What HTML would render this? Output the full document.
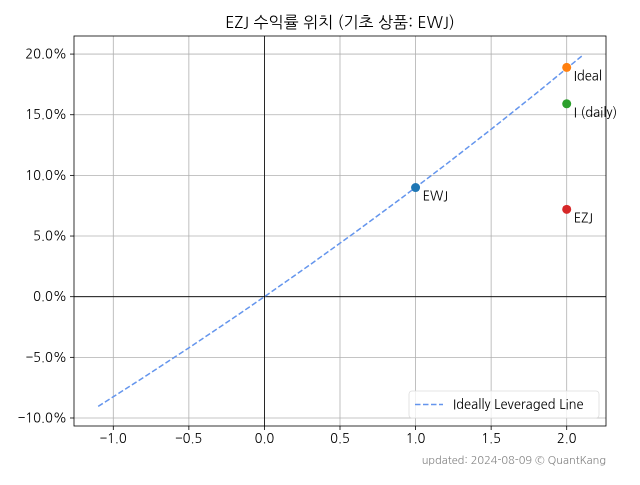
<!DOCTYPE html>
<html><head><meta charset="utf-8"><style>
body{margin:0;background:#fff;}
svg text{font-family:"NanumGothic","Noto Sans CJK KR",sans-serif;}
</style></head><body>
<svg id="chart" width="640" height="480" xmlns="http://www.w3.org/2000/svg">
<rect width="640" height="480" fill="#fff"/>
<text x="340" y="28" text-anchor="middle" font-size="16" fill="#000">EZJ 수익률 위치 (기초 상품: EWJ)</text>
<g id="grid"></g>
<g id="marks"></g>
<rect x="74" y="36" width="532" height="390" fill="none" stroke="#000" stroke-width="0.8"/>
<g>
<rect x="409" y="391" width="190" height="27" rx="3" fill="#fff" fill-opacity="0.8" stroke="#ddd" stroke-width="0.8"/>
<line x1="415" y1="404.5" x2="443" y2="404.5" stroke="#6495ED" stroke-width="1.5" stroke-dasharray="5.5,2.5"/>
<text x="453" y="409" font-size="13">Ideally Leveraged Line</text>
</g>
<text x="606" y="464" text-anchor="end" font-size="11" fill="#888">updated: 2024-08-09 © QuantKang</text>
</svg>
<script>
const baseReturn = 0.09;
const lineLeverage = [-1.1, -0.8, -0.5, -0.2, 0, 0.3, 0.6, 0.9, 1.2, 1.5, 1.8, 2.1];
const pointLabels = ["EWJ", "Ideal", "I (daily)", "EZJ"];
const pointLeverage = [1, 2, 2, 2];
const pointReturns = [0.090, 0.189, 0.159, 0.072];
const pointColors = ["#1f77b4", "#ff7f0e", "#2ca02c", "#d62728"];
const xTicks = [-1.0, -0.5, 0.0, 0.5, 1.0, 1.5, 2.0];
const yTicks = [-0.10, -0.05, 0.0, 0.05, 0.10, 0.15, 0.20];

const NS = "http://www.w3.org/2000/svg";
const X0 = 74, X1 = 606, Y0 = 36, Y1 = 426;
const xMin = -1.26, xMax = 2.26, yMin = -0.1066, yMax = 0.2149;
const sx = v => X0 + (v - xMin) / (xMax - xMin) * (X1 - X0);
const sy = v => Y1 - (v - yMin) / (yMax - yMin) * (Y1 - Y0);
function mk(tag, attrs, parent, text) {
  const e = document.createElementNS(NS, tag);
  for (const k in attrs) e.setAttribute(k, attrs[k]);
  if (text !== undefined) e.textContent = text;
  parent.appendChild(e);
  return e;
}
const grid = document.getElementById("grid");
const marks = document.getElementById("marks");
xTicks.forEach(t => {
  const g = mk("line", {x1: sx(t), x2: sx(t), y1: Y0, y2: Y1, stroke: "#b0b0b0", "stroke-width": 0.8}, grid);
  
  
  mk("line", {x1: sx(t), x2: sx(t), y1: Y1, y2: Y1 + 4, stroke: "#000", "stroke-width": 0.8}, grid);
  const l = mk("text", {x: sx(t), y: Y1 + 17, "text-anchor": "middle", "font-size": 13}, grid, t.toFixed(1).replace("-", "−"));
  
  
});
yTicks.forEach(t => {
  const g = mk("line", {x1: X0, x2: X1, y1: sy(t), y2: sy(t), stroke: "#b0b0b0", "stroke-width": 0.8}, grid);
  
  
  mk("line", {x1: X0 - 4, x2: X0, y1: sy(t), y2: sy(t), stroke: "#000", "stroke-width": 0.8}, grid);
  const l = mk("text", {x: X0 - 7, y: sy(t) + 4.5, "text-anchor": "end", "font-size": 13}, grid, (t * 100).toFixed(1).replace("-", "−") + "%");
  
  
});
const ax = mk("line", {x1: sx(0), x2: sx(0), y1: Y0, y2: Y1, stroke: "#000", "stroke-width": 0.8}, grid);


const ay = mk("line", {x1: X0, x2: X1, y1: sy(0), y2: sy(0), stroke: "#000", "stroke-width": 0.8}, grid);



const pts = lineLeverage.map(L => sx(L).toFixed(2) + "," + sy(Math.pow(1 + baseReturn, L) - 1).toFixed(2));
const pl = mk("polyline", {points: pts.join(" "), fill: "none", stroke: "#6495ED", "stroke-width": 1.5, "stroke-dasharray": "5.5,2.5"}, marks);



pointLabels.forEach((lab, i) => {
  const c = mk("circle", {cx: sx(pointLeverage[i]), cy: sy(pointReturns[i]), r: 4.5, fill: pointColors[i]}, marks);
  
  
  const t = mk("text", {x: sx(pointLeverage[i]) + 7, y: sy(pointReturns[i]) + 13, "font-size": 13}, marks, lab);
  
  
});
</script>
</body></html>
